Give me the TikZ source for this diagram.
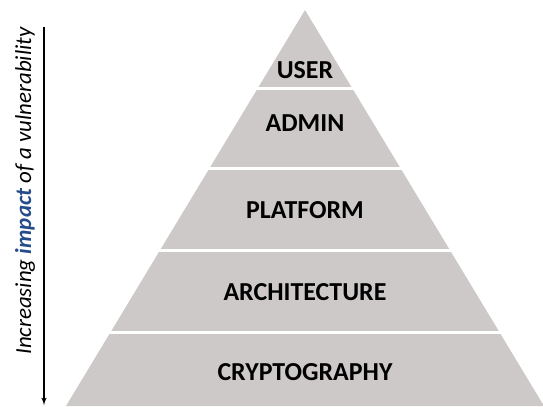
\documentclass[tikz,border=0pt]{standalone}
\usepackage{fontspec}
\setmainfont{Carlito}
\usepackage{xcolor}
\usepackage{tikz}
\usetikzlibrary{arrows,positioning,calc}
\definecolor{pyrgray}{RGB}{206,201,201}
\definecolor{impblue}{RGB}{38,76,138}
\tikzstyle{layer} = [font=\fontsize{26}{30}\selectfont\bfseries, inner sep=0pt]
\tikzstyle{gap} = [draw=white, line width=3bp]
\tikzstyle{line} = [draw, -latex', line width=1.5bp]

\begin{document}
\begin{tikzpicture}[x=1bp,y=1bp]
  			\useasboundingbox (0,0) rectangle (543,406);
  			
  			% pyramid
  			\fill[pyrgray] (66,0) -- (305,396) -- (544,0) -- cycle;
  			\foreach \y in {74,156,238,318} { \draw[gap] (50,\y) -- (560,\y); } % white cuts between layers
  			
  			% layers, from the bottom up
  			\node[layer] (crypto)   at (305,34)  {CRYPTOGRAPHY};
  			\node[layer] (arch)     at (305,114) {ARCHITECTURE};
  			\node[layer] (platform) at (305,196) {PLATFORM};
  			\node[layer] (admin)    at (305,283) {ADMIN};
  			\node[layer] (user)     at (305,336) {USER};
  			
  			% impact arrow
  			\coordinate (top) at (44,379);
  			\coordinate (bot) at (44,1);
  			\draw[line] (top) -- (bot);
  			\node[rotate=90, font=\fontsize{23}{27}\selectfont\itshape, inner sep=0pt] (impact) at (25,215)
  			  {Increasing \textcolor{impblue}{\textbf{impact}} of a vulnerability};
\end{tikzpicture}
\end{document}
